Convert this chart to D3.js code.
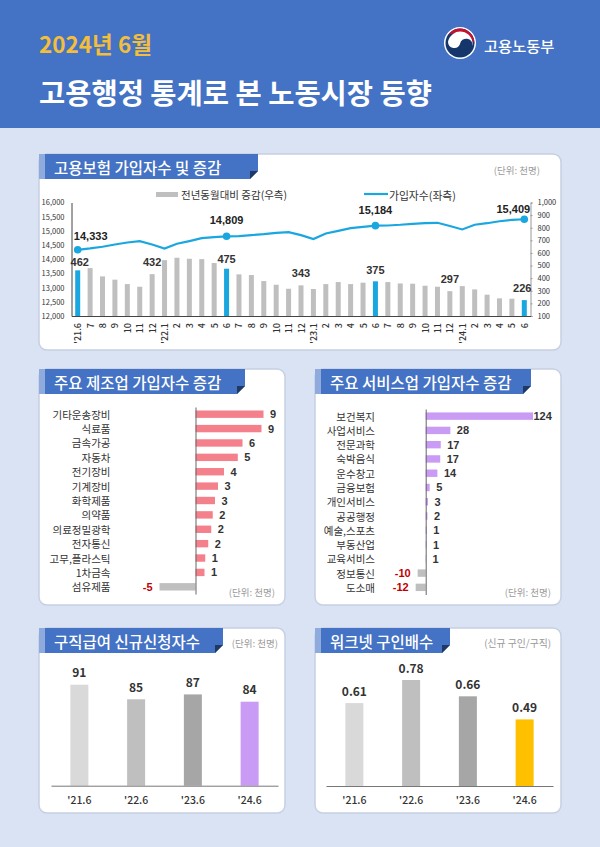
<!DOCTYPE html>
<html>
<head>
<meta charset="utf-8">
<script src="https://d3js.org/d3.v7.min.js"></script>
<style>
  body { margin: 0; background: #DAE3F3; }
  text { font-family: "Noto Sans CJK KR", "Noto Sans", sans-serif; }
</style>
</head>
<body>
<div id="chart"></div>
<script>
// 고용보험 가입자수 및 증감
var months = ["'21.6","7","8","9","10","11","12",
  "'22.1","2","3","4","5","6","7","8","9","10","11","12",
  "'23.1","2","3","4","5","6","7","8","9","10","11","12",
  "'24.1","2","3","4","5","6"];
var subscribers = [14333,14381,14440,14520,14590,14640,14520,
  14380,14545,14640,14745,14780,14809,14815,14850,14885,14930,14955,14850,
  14710,14910,15000,15095,15140,15184,15190,15215,15250,15270,15285,15170,
  15050,15215,15270,15340,15390,15409];
var yoyChange = [462,480,414,388,353,332,432,
  543,562,554,551,520,475,430,425,377,348,316,343,
  314,353,369,353,364,375,369,358,356,340,332,297,
  337,311,269,240,237,226];
var leftTicks = [12000,12500,13000,13500,14000,14500,15000,15500,16000];
var rightTicks = [100,200,300,400,500,600,700,800,900,1000];

// 주요 제조업
var mfgNames = ["기타운송장비","식료품","금속가공","자동차","전기장비","기계장비","화학제품","의약품","의료정밀광학","전자통신","고무,플라스틱","1차금속","섬유제품"];
var mfgValues = [9.07,8.8,6.27,5.64,3.8,3.0,2.6,2.3,2.1,1.7,1.3,1.2,-4.8];
var mfgLabels = ["9","9","6","5","4","3","3","2","2","2","1","1","-5"];

// 주요 서비스업
var svcNames = ["보건복지","사업서비스","전문과학","숙박음식","운수창고","금융보험","개인서비스","공공행정","예술,스포츠","부동산업","교육서비스","정보통신","도소매"];
var svcValues = [124,28.5,17.4,16.8,13.5,4.6,2.7,2,1.2,0.8,0.4,-9.3,-11.6];
var svcLabels = ["124","28","17","17","14","5","3","2","1","1","1","-10","-12"];

// 구직급여 / 워크넷
var yearLabels = ["'21.6","'22.6","'23.6","'24.6"];
var claimValues = [91,85,87,84];
var offerValues = [0.61,0.78,0.66,0.49];

var svg = d3.select("#chart").append("svg")
  .attr("width", 600).attr("height", 847)
  .style("display", "block");

function txt(x, y, s, size, color, weight, anchor) {
  return svg.append("text")
    .attr("x", x).attr("y", y)
    .attr("dominant-baseline", "central")
    .attr("text-anchor", anchor || "start")
    .attr("font-size", size)
    .attr("font-weight", weight || 400)
    .attr("fill", color)
    .text(s);
}

// 카드 + 제목 리본
function panel(x, y, w, h, bannerW, title) {
  svg.append("rect").attr("x", x).attr("y", y).attr("width", w).attr("height", h)
    .attr("rx", 8).attr("fill", "#fff").attr("stroke", "#C6D0E2").attr("stroke-width", 1.5);
  var b = y + 25, r = x + bannerW;
  svg.append("path").attr("fill", "#4472C4")
    .attr("d", `M${x},${y}H${r}V${b - 8}L${r - 8},${b}H${x}Z`);
  svg.append("rect").attr("x", x).attr("y", y).attr("width", 6).attr("height", 25).attr("fill", "#8FAADC");
  svg.append("path").attr("fill", "#1F3864")
    .attr("d", `M${r - 8},${b - 8}H${r}L${r - 8},${b}Z`);
  txt(x + 15, y + 12.5, title, 15.5, "#fff", 500);
}

// 헤더
svg.append("rect").attr("width", 600).attr("height", 128).attr("fill", "#4472C4");
txt(39, 43, "2024년 6월", 22.5, "#F2BE3C", 700);
txt(39, 91, "고용행정 통계로 본 노동시장 동향", 28.5, "#fff", 700);

// 태극 로고
svg.append("circle").attr("cx", 460).attr("cy", 43).attr("r", 16).attr("fill", "#fff");
svg.append("circle").attr("cx", 460).attr("cy", 43).attr("r", 14.5).attr("fill", "#14366B");
svg.append("path").attr("fill", "#C8102E").attr("d", "M448,35A14.5,14.5 0 0 1 474.5,44Q470,34 460,33Q453,32.5 448,35Z");
svg.append("path").attr("fill", "#fff").attr("d", "M448,42A12.4,12.4 0 0 1 472.5,46A6.2,6.2 0 0 0 460,44A6.2,6.2 0 0 1 448,42Z");
txt(484, 45, "고용노동부", 15.3, "#fff", 500);

// ---- 가입자수 콤보 차트
panel(39, 154, 522, 196, 219, "고용보험 가입자수 및 증감");
txt(540, 170, "(단위: 천명)", 9.5, "#999", 400, "end");

var comboX = d3.scaleBand().domain(d3.range(months.length)).range([71.5, 530.5]);
var leftY = d3.scaleLinear().domain([12000, 16000]).range([316, 202.5]);
var rightY = d3.scaleLinear().domain([100, 1000]).range([316, 202.5]);
var cx = i => comboX(i) + comboX.bandwidth() / 2;
var highlight = [0, 12, 24, 36];

var leftAxis = svg.append("g").attr("transform", "translate(71.5,0)")
  .call(d3.axisLeft(leftY).tickValues(leftTicks).tickSize(0).tickPadding(7).tickFormat(d3.format(",")));
leftAxis.select(".domain").attr("stroke", "#444");
leftAxis.selectAll("text").attr("font-size", 7.5).attr("fill", "#333");

var rightAxis = svg.append("g").attr("transform", "translate(530.5,0)")
  .call(d3.axisRight(rightY).tickValues(rightTicks).tickSize(2).tickPadding(5).tickFormat(d3.format(",")));
rightAxis.selectAll("line,.domain").attr("stroke", "#999");
rightAxis.selectAll("text").attr("font-size", 7.5).attr("fill", "#333");

svg.append("g").selectAll("rect").data(yoyChange).join("rect")
  .attr("x", (d, i) => cx(i) - 2.5)
  .attr("y", d => rightY(d))
  .attr("width", 5)
  .attr("height", d => 316 - rightY(d))
  .attr("fill", (d, i) => highlight.includes(i) ? "#1AA7E0" : "#BFBFBF");

var bottomAxis = svg.append("g").attr("transform", "translate(0,316)")
  .call(d3.axisBottom(comboX).tickSize(0).tickFormat(i => months[i]));
bottomAxis.select(".domain").attr("stroke", "#444");
bottomAxis.selectAll("text")
  .attr("font-size", 9).attr("fill", "#333").attr("font-weight", 500)
  .attr("text-anchor", "end").attr("dominant-baseline", "central")
  .attr("transform", "translate(0,7) rotate(-90)").attr("x", 0).attr("y", 0).attr("dy", null);

svg.append("path").datum(subscribers)
  .attr("fill", "none").attr("stroke", "#1AA7E0").attr("stroke-width", 2.2)
  .attr("d", d3.line().x((d, i) => cx(i)).y(d => leftY(d)));
svg.append("g").selectAll("circle").data(highlight).join("circle")
  .attr("cx", i => cx(i)).attr("cy", i => leftY(subscribers[i]))
  .attr("r", 3.8).attr("fill", "#1AA7E0");

// 콤보 라벨 (인덱스, dx, dy)
[[0, 13, -14], [12, 0, -16], [24, 0, -16], [36, -11, -10]].forEach(function (p) {
  txt(cx(p[0]) + p[1], leftY(subscribers[p[0]]) + p[2], d3.format(",")(subscribers[p[0]]), 11, "#222", 700, "middle")
    .style("font-family", "'Liberation Sans'");
});
[[0, 2, -8], [6, 0, -12], [12, 0, -10], [18, 0, -12], [24, 0, -11], [30, 0, -12], [36, -2, -12]].forEach(function (p) {
  txt(cx(p[0]) + p[1], rightY(yoyChange[p[0]]) + p[2], yoyChange[p[0]], 11, "#333", 700, "middle")
    .style("font-family", "'Liberation Sans'");
});

// 범례
svg.append("rect").attr("x", 156).attr("y", 192).attr("width", 22).attr("height", 5).attr("fill", "#BFBFBF");
txt(181, 194.5, "전년동월대비 증감(우측)", 10.5, "#333");
svg.append("line").attr("x1", 364).attr("x2", 388).attr("y1", 194).attr("y2", 194)
  .attr("stroke", "#1AA7E0").attr("stroke-width", 2.2);
txt(389, 194.5, "가입자수(좌측)", 10.8, "#333");

// ---- 가로 막대
function hbars(names, values, labels, o) {
  var y = d3.scaleBand().domain(names).range([o.top, o.bottom]);
  var x = d3.scaleLinear().domain([0, o.maxVal]).range([o.zero, o.maxX]);
  svg.append("g").selectAll("rect").data(values).join("rect")
    .attr("x", d => Math.min(x(0), x(d)))
    .attr("y", (d, i) => y(names[i]) + y.bandwidth() / 2 - 3.7)
    .attr("width", d => Math.abs(x(d) - x(0)))
    .attr("height", 7.4)
    .attr("fill", d => d < 0 ? "#BFBFBF" : o.color);
  var ax = svg.append("g").attr("transform", `translate(${o.zero},0)`)
    .call(d3.axisLeft(y).tickSize(0).tickValues([]));
  ax.select(".domain").attr("stroke", "#666");
  names.forEach(function (n, i) {
    var cy = y(n) + y.bandwidth() / 2;
    txt(o.nameX, cy, n, 10.5, "#333", 400, "end");
    var t = values[i] < 0
      ? txt(x(values[i]) - 7, cy, labels[i], 11, "#C00000", 700, "end")
      : txt(Math.min(x(values[i]) + 6.5, o.labelMax), cy, labels[i], 11, "#333", 700);
    t.style("font-family", "'Liberation Sans'");
  });
}

panel(39, 369, 246, 236, 206, "주요 제조업 가입자수 증감");
hbars(mfgNames, mfgValues, mfgLabels, { top: 407, bottom: 594, zero: 195.5, maxVal: 9.07, maxX: 263.5, labelMax: 280, nameX: 110.5, color: "#F4808C" });
txt(275, 591.5, "(단위: 천명)", 9.5, "#999", 400, "end");

panel(315, 369, 246, 236, 216, "주요 서비스업 가입자수 증감");
hbars(svcNames, svcValues, svcLabels, { top: 409, bottom: 594.5, zero: 425.7, maxVal: 124, maxX: 533, labelMax: 533.5, nameX: 375, color: "#C99BF5" });
txt(551, 591.5, "(단위: 천명)", 9.5, "#999", 400, "end");

// ---- 세로 막대
function vbars(values, fmt, colors, o) {
  var x = d3.scaleBand().domain(yearLabels).range([o.left, o.right]);
  var y = d3.scaleLinear().domain(o.domain).range([o.base, o.topY]);
  svg.append("g").selectAll("rect").data(values).join("rect")
    .attr("x", (d, i) => x(yearLabels[i]) + x.bandwidth() / 2 - 9)
    .attr("y", d => y(d))
    .attr("width", 18)
    .attr("height", d => o.base - y(d))
    .attr("fill", (d, i) => colors[i]);
  var ax = svg.append("g").attr("transform", `translate(0,${o.base})`)
    .call(d3.axisBottom(x).tickSize(0).tickPadding(11));
  ax.select(".domain").attr("stroke", "#777");
  ax.selectAll("text").attr("font-size", 10.5).attr("font-weight", 500).attr("fill", "#333");
  values.forEach(function (d, i) {
    txt(x(yearLabels[i]) + x.bandwidth() / 2, y(d) - 13, fmt(d), 12, "#333", 700, "middle");
  });
}

panel(39, 628, 246, 185, 184, "구직급여 신규신청자수");
txt(278, 643, "(단위: 천명)", 9.5, "#999", 400, "end");
vbars(claimValues, d3.format("d"), ["#D9D9D9", "#BFBFBF", "#A6A6A6", "#C99BF5"],
  { left: 51, right: 278, base: 785.7, topY: 684.7, domain: [49.4, 91] });

panel(315, 628, 246, 185, 135, "워크넷 구인배수");
txt(551, 643, "(신규 구인/구직)", 9.8, "#999", 400, "end");
vbars(offerValues, d3.format(".2f"), ["#D9D9D9", "#BFBFBF", "#A6A6A6", "#FFC000"],
  { left: 326, right: 553, base: 786, topY: 680, domain: [0, 0.78] });
</script>
</body>
</html>
